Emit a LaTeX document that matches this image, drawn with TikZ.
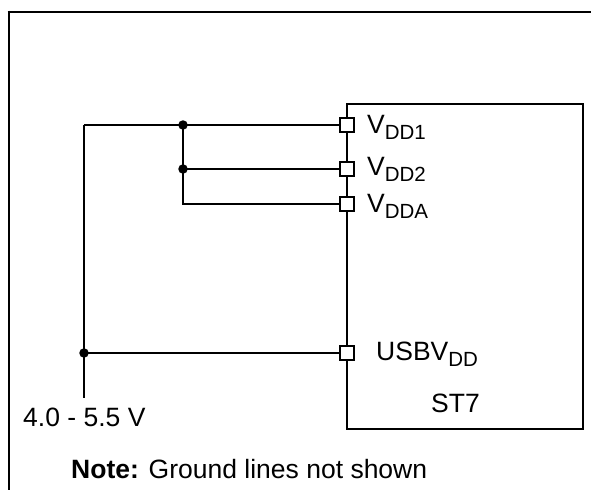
\documentclass[tikz,border=0pt]{standalone}
\usepackage{fontspec}
\setmainfont{Liberation Sans}
\newcommand\subtxt[1]{\raisebox{-6pt}{\fontsize{20.5}{22}\selectfont #1}}
\begin{document}
\begin{tikzpicture}[x=1pt,y=-1pt,
  wire/.style={line width=2.4pt},
  frameline/.style={line width=2.8pt},
  pin/.style={draw, line width=2.4pt, fill=white, minimum size=14pt, inner sep=0pt, outer sep=0pt},
  dot/.style={circle, fill, inner sep=0pt, minimum size=9.5pt},
  lbl/.style={anchor=base west, inner sep=0pt, font=\fontsize{26.5}{30}\selectfont}]
\useasboundingbox (0,0) rectangle (591,490);
\draw[frameline] (7.6,12) -- (591,12);
\draw[frameline] (9,10.6) -- (9,490);
\node[draw, line width=2.8pt, minimum width=236pt, minimum height=325pt,
      anchor=north west, inner sep=0pt, outer sep=0pt] (chip) at (347,104) {};
% junctions
\coordinate (top) at (84,125);
\coordinate (bot) at (84,398);
\node[dot] (j1) at (183,125) {};
\node[dot] (j2) at (183,169) {};
\coordinate (j3) at (183,204);
\node[dot] (j4) at (84,353) {};
% pins
\node[pin] (p1) at (347,125) {};
\node[pin] (p2) at (347,169) {};
\node[pin] (p3) at (347,204) {};
\node[pin] (p4) at (347,353) {};
% wires
\draw[wire] (top) -- (p1.west);
\draw[wire] (j1.center) -- (j3) -- (p3.west);
\draw[wire] (j2.center) -- (p2.west);
\draw[wire] (top) -- (bot);
\draw[wire] (j4.center) -- (p4.west);
% labels
\node[lbl] (l1) at (367,133) {V\subtxt{DD1}};
\node[lbl] (l2) at (367,175) {V\subtxt{DD2}};
\node[lbl] (l3) at (367,212) {V\subtxt{DDA}};
\node[lbl] (l4) at (376,360) {USBV\subtxt{DD}};
\node[lbl] (st) at (431,412) {ST7};
\node[lbl] (vin) at (23,426) {4.0 - 5.5 V};
\node[lbl] (note) at (71,478) {\textbf{Note:} Ground lines not shown};
\end{tikzpicture}
\end{document}
